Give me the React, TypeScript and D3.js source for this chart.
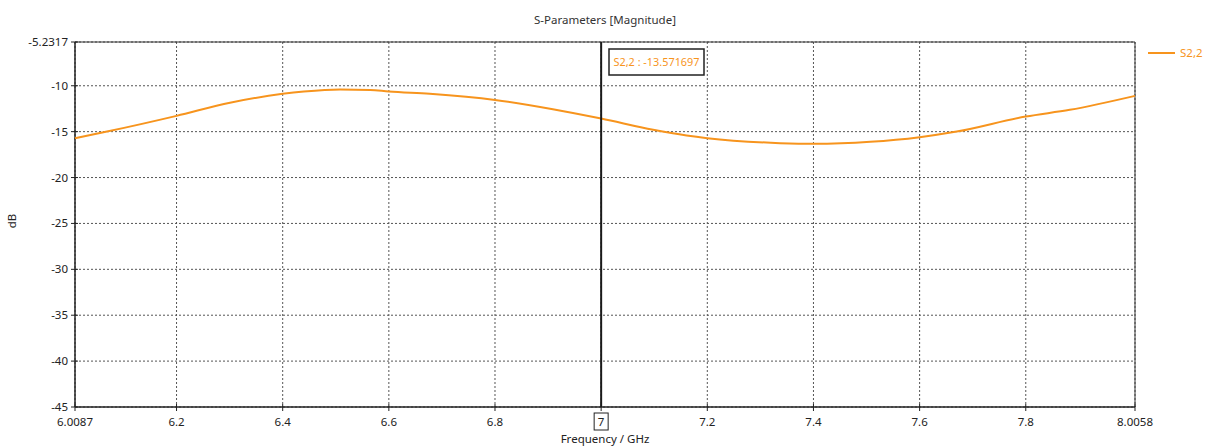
import React from "react";
import * as d3 from "d3";

const freq = [6.0087, 6.069, 6.2, 6.3007, 6.4, 6.44, 6.508, 6.565, 6.6, 6.677, 6.8, 6.909, 7.0, 7.098, 7.161, 7.2, 7.337, 7.4, 7.507, 7.6, 7.67, 7.8, 7.883, 8.0058];
const s22 = [-15.71, -14.99, -13.28, -11.85, -10.88, -10.63, -10.4, -10.45, -10.63, -10.88, -11.54, -12.55, -13.57, -14.8, -15.42, -15.71, -16.25, -16.33, -16.11, -15.6, -14.99, -13.35, -12.62, -11.1];
const xTicks = [6.0087, 6.2, 6.4, 6.6, 6.8, 7.0, 7.2, 7.4, 7.6, 7.8, 8.0058];
const xTickLabels = ["6.0087", "6.2", "6.4", "6.6", "6.8", "7", "7.2", "7.4", "7.6", "7.8", "8.0058"];
const yTicks = [-5.2317, -10, -15, -20, -25, -30, -35, -40, -45];
const yTickLabels = ["-5.2317", "-10", "-15", "-20", "-25", "-30", "-35", "-40", "-45"];
const markerX = 7.0;
const markerLabel = "S2,2 : -13.571697";
const seriesName = "S2,2";

export default function App() {
  const W = 1208, H = 448;
  const left = 75, right = 1135, top = 42, bottom = 407;
  const x = d3.scaleLinear().domain([6.0087, 8.0058]).range([left, right]);
  const y = d3.scaleLinear().domain([-45, -5.2317]).range([bottom, top]);
  const line = d3.line<number>().x((_, i) => x(freq[i])).y((d) => y(d)).curve(d3.curveMonotoneX);
  const font = "'Noto Sans', 'Open Sans', sans-serif";
  const fs = 11.5;
  const orange = "#f7941d";
  const mx = x(markerX);
  return (
    <svg width={W} height={H} style={{ position: "absolute", left: 0, top: 0, background: "#fff" }} fontFamily={font}>
      <rect x={0} y={0} width={W} height={H} fill="#fff" />
      <text x={605} y={24} textAnchor="middle" fontSize={fs} fill="#333">S-Parameters [Magnitude]</text>
      {xTicks.map((t, i) => (
        <line key={"gx" + i} x1={x(t)} x2={x(t)} y1={top} y2={bottom} stroke="#555" strokeWidth={1} strokeDasharray="2,2" />
      ))}
      {yTicks.map((t, i) => (
        <line key={"gy" + i} x1={left} x2={right} y1={y(t)} y2={y(t)} stroke="#555" strokeWidth={1} strokeDasharray="2,2" />
      ))}
      <line x1={left} x2={right} y1={top} y2={top} stroke="#333" strokeWidth={1.2} />
      <line x1={right} x2={right} y1={top} y2={bottom} stroke="#333" strokeWidth={1} />
      <line x1={left} x2={left} y1={top} y2={bottom} stroke="#222" strokeWidth={1.5} />
      <line x1={left} x2={right} y1={bottom} y2={bottom} stroke="#222" strokeWidth={1.5} />
      {xTicks.map((t, i) => (
        <line key={"tx" + i} x1={x(t)} x2={x(t)} y1={bottom - 3} y2={bottom + 4} stroke="#222" />
      ))}
      {yTicks.map((t, i) => (
        <line key={"ty" + i} x1={left - 4} x2={left + 3} y1={y(t)} y2={y(t)} stroke="#222" />
      ))}
      {yTicks.map((t, i) => (
        <text key={"ly" + i} x={left - 7} y={y(t) + 4} textAnchor="end" fontSize={fs} fill="#222">{yTickLabels[i]}</text>
      ))}
      {xTicks.map((t, i) => (
        <text key={"lx" + i} x={x(t)} y={426} textAnchor="middle" fontSize={fs} fill="#222">{xTickLabels[i]}</text>
      ))}
      <rect x={mx - 7} y={413} width={14} height={17} fill="none" stroke="#222" strokeWidth={1} />
      <text x={605} y={443} textAnchor="middle" fontSize={fs} fill="#222">Frequency / GHz</text>
      <text transform={`translate(16,221) rotate(-90)`} textAnchor="middle" fontSize={fs} fill="#222">dB</text>
      <path d={line(s22) || ""} fill="none" stroke={orange} strokeWidth={2} />
      <line x1={mx} x2={mx} y1={top} y2={bottom} stroke="#1a1a1a" strokeWidth={2} />
      <rect x={609} y={49} width={95} height={26} fill="#fff" stroke="#222" strokeWidth={1.5} />
      <text x={656.5} y={66} textAnchor="middle" fontSize={fs} fill={orange} textLength={86} lengthAdjust="spacingAndGlyphs">{markerLabel}</text>
      <line x1={1148} x2={1175} y1={53} y2={53} stroke={orange} strokeWidth={2} />
      <text x={1180} y={57} fontSize={fs} fill={orange}>{seriesName}</text>
    </svg>
  );
}
